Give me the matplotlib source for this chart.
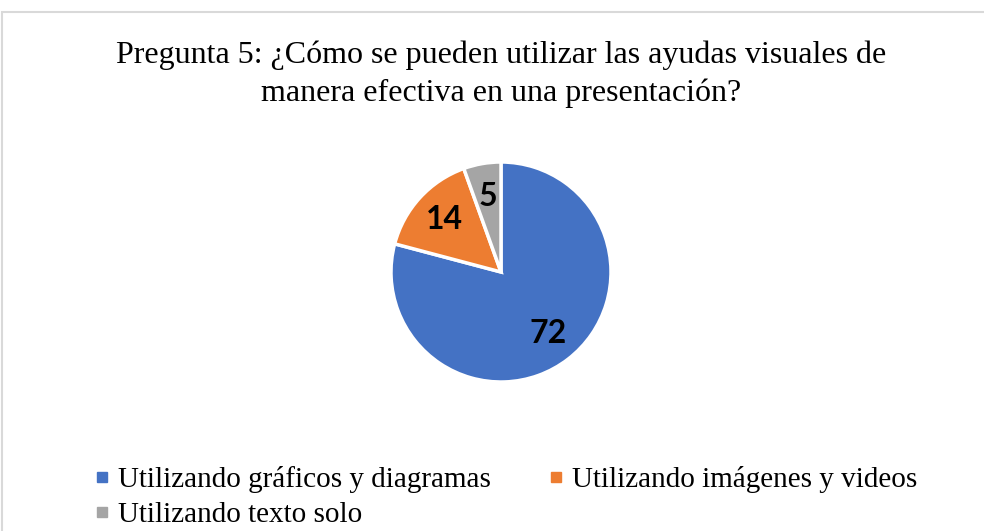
import matplotlib
matplotlib.use("Agg")
import matplotlib.pyplot as plt
from matplotlib.lines import Line2D
from matplotlib.patches import Rectangle

plt.rcParams['font.family'] = 'Liberation Serif'

# data
title = "Pregunta 5: ¿Cómo se pueden utilizar las ayudas visuales de\nmanera efectiva en una presentación?"
categories = ["Utilizando gráficos y diagramas", "Utilizando imágenes y videos", "Utilizando texto solo"]
values = [72, 14, 5]
colors = ["#4472C4", "#ED7D31", "#A5A5A5"]

W, H = 984, 531
fig = plt.figure(figsize=(W / 100, H / 100), dpi=100)

# chart area border (cut off on the right and bottom like the reference)
fig.patches.append(Rectangle((2 / W, -0.1), 1.2, (H - 12) / H + 0.1, transform=fig.transFigure,
                             fill=False, edgecolor="#D9D9D9", linewidth=1.5))

fig.text(501 / W, 1 - 74 / H, title, ha="center", va="center", fontsize=23,
         linespacing=1.38, color="black")

# pie axes, centre at (501, 272) px, radius ~110 px
r = 110
ax = fig.add_axes([(501 - r) / W, (H - 272 - r) / H, 2 * r / W, 2 * r / H])
wedges, texts = ax.pie(values, colors=colors, startangle=90, counterclock=False,
                       labels=[str(v) for v in values], labeldistance=0.7,
                       wedgeprops=dict(edgecolor="white", linewidth=2.5))
for t in texts:
    t.set_fontfamily("Lato")
    t.set_fontweight("bold")
    t.set_fontsize(23)
    t.set_ha("center")
    t.set_va("center")
ax.set_xlim(-1, 1)
ax.set_ylim(-1, 1)
ax.set_aspect("equal")
ax.axis("off")

handles = [Line2D([], [], marker="s", linestyle="none", markersize=7.2,
                  markerfacecolor=c, markeredgecolor=c) for c in colors]
# reorder so entries fill row-wise like the reference
order = [0, 2, 1]
fig.legend([handles[i] for i in order], [categories[i] for i in order],
           loc="upper left", bbox_to_anchor=(95 / W, 1 - 466 / H), ncol=2,
           frameon=False, fontsize=21, handlelength=0.5, handletextpad=0.28,
           columnspacing=2.0, labelspacing=0.3, borderaxespad=0, borderpad=0)

fig.savefig("out.png", dpi=100)
